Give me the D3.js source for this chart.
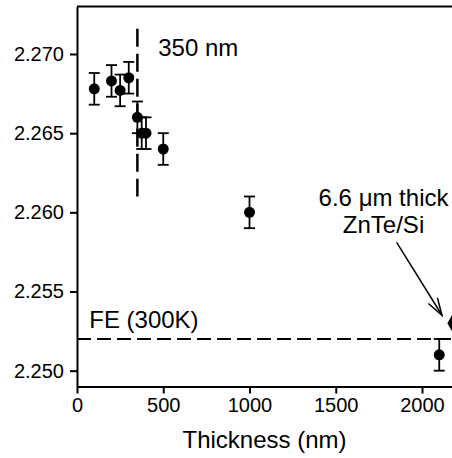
<!DOCTYPE html>
<html><head><meta charset="utf-8">
<script src="https://cdn.jsdelivr.net/npm/d3@7/dist/d3.min.js"></script>
<style>body{margin:0;background:#fff}svg{display:block}text{font-family:"Liberation Sans",Arial,sans-serif;fill:#000}</style>
</head><body><svg id="c" width="452" height="458"></svg>
<script>
const thickness = [100, 200, 250, 300, 350, 375, 400, 500, 1000, 2100];
const energy = [2.2678, 2.2683, 2.2677, 2.2685, 2.2660, 2.2650, 2.2650, 2.2640, 2.2600, 2.2510];
const errors = [0.001, 0.001, 0.001, 0.001, 0.001, 0.001, 0.001, 0.001, 0.001, 0.001];
const bulkPoint = [{x: 2178, y: 2.2530}];
const feLevel = 2.252;
const cutoffThickness = 350;
const cutoffRange = [2.2610, 2.2716];
const xTicks = [0, 500, 1000, 1500, 2000];
const yTicks = [2.250, 2.255, 2.260, 2.265, 2.270];

const svg = d3.select("#c");
const x = d3.scaleLinear().domain([0, 2200]).range([77, 456.5]);
const y = d3.scaleLinear().domain([2.249, 2.273]).range([386.5, 6.5]);

// axes
const xa = svg.append("g").attr("transform","translate(0,386.5)")
  .call(d3.axisBottom(x).tickValues(xTicks).tickFormat(d3.format("d")).tickSize(7).tickSizeOuter(0).tickPadding(4));
const ya = svg.append("g").attr("transform","translate(77,0)")
  .call(d3.axisLeft(y).tickValues(yTicks).tickFormat(d3.format(".3f")).tickSize(7).tickSizeOuter(0).tickPadding(6));
[xa, ya].forEach(g=>{
  g.select(".domain").attr("stroke","#000").attr("stroke-width",2);
  g.selectAll(".tick line").attr("stroke","#000").attr("stroke-width",2);
  g.selectAll(".tick text").style("font-size","20px").attr("fill","#000");
});
// top border
svg.append("line").attr("x1",x(0)).attr("x2",452).attr("y1",y.range()[1]).attr("y2",y.range()[1])
  .attr("stroke","#000").attr("stroke-width",2);

// FE dashed line
svg.append("line").attr("x1",x(0)).attr("x2",452).attr("y1",y(feLevel)).attr("y2",y(feLevel))
  .attr("stroke","#000").attr("stroke-width",2).attr("stroke-dasharray","14,6");
// vertical dashed line
svg.append("line").attr("x1",x(cutoffThickness)).attr("x2",x(cutoffThickness))
  .attr("y1",y(cutoffRange[1])).attr("y2",y(cutoffRange[0]))
  .attr("stroke","#000").attr("stroke-width",2.5).attr("stroke-dasharray","18,7");

// error bars
const data = thickness.map((t,i)=>({x:t,y:energy[i],e:errors[i]}));
const eb = svg.append("g").attr("stroke","#000").attr("stroke-width",1.8);
data.forEach(d=>{
  const cx = x(d.x);
  eb.append("line").attr("x1",cx).attr("x2",cx).attr("y1",y(d.y+d.e)).attr("y2",y(d.y-d.e));
  eb.append("line").attr("x1",cx-5.5).attr("x2",cx+5.5).attr("y1",y(d.y+d.e)).attr("y2",y(d.y+d.e));
  eb.append("line").attr("x1",cx-5.5).attr("x2",cx+5.5).attr("y1",y(d.y-d.e)).attr("y2",y(d.y-d.e));
});
svg.append("g").selectAll("circle").data(data).join("circle")
  .attr("cx",d=>x(d.x)).attr("cy",d=>y(d.y)).attr("r",5.5).attr("fill","#000");

// diamond
svg.append("g").selectAll("path").data(bulkPoint).join("path")
  .attr("transform",d=>`translate(${x(d.x)},${y(d.y)})`)
  .attr("d",d3.symbol(d3.symbolDiamond, 100)).attr("fill","#000");

// labels
svg.append("text").attr("x",x(471)).attr("y",y(2.2699)).style("font-size","24px").text("350 nm");
svg.append("text").attr("x",x(71)).attr("y",y(2.2527)).style("font-size","24px").text("FE (300K)");
const ann = svg.append("text").attr("text-anchor","middle").style("font-size","24px");
ann.append("tspan").attr("x",x(1777)).attr("y",y(2.2604)).text("6.6 \u03bcm thick");
ann.append("tspan").attr("x",x(1777)).attr("y",y(2.2587)).text("ZnTe/Si");

// arrow
const ax1 = x(1853), ay1 = y(2.2581), ax2 = x(2116), ay2 = y(2.2535);
svg.append("line").attr("x1",ax1).attr("y1",ay1).attr("x2",ax2).attr("y2",ay2).attr("stroke","#000").attr("stroke-width",1.5);
const ang = Math.atan2(ay2-ay1, ax2-ax1);
const hl = 18, hw = 0.3;
const p1 = [ax2 - hl*Math.cos(ang-hw), ay2 - hl*Math.sin(ang-hw)];
const p2 = [ax2 - hl*Math.cos(ang+hw), ay2 - hl*Math.sin(ang+hw)];
svg.append("path").attr("d",`M${p1}L${ax2},${ay2}L${p2}`).attr("fill","none").attr("stroke","#000").attr("stroke-width",1.5);

// axis title
svg.append("text").attr("x",(x(0)+452)/2).attr("y",448).attr("text-anchor","middle").style("font-size","24px").text("Thickness (nm)");
</script></body></html>
